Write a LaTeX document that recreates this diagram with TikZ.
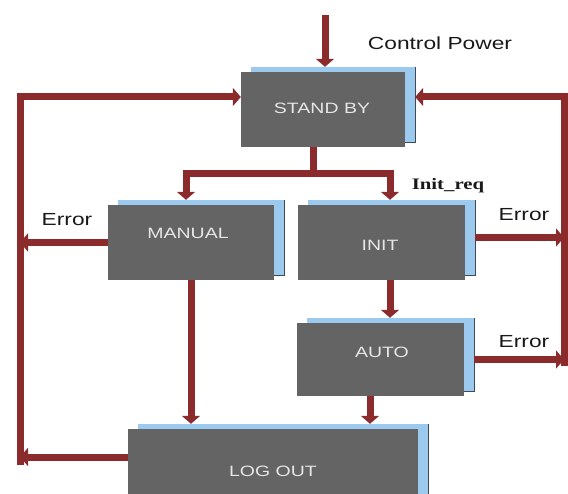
\documentclass[tikz,border=0pt]{standalone}
\usepackage{fontspec}
\setmainfont{Liberation Sans}
\newfontfamily\initfont{Liberation Serif}
\usetikzlibrary{arrows.meta}
\definecolor{arrowred}{HTML}{8B2B2B}
\definecolor{boxgray}{HTML}{646464}
\definecolor{shadowblue}{HTML}{9CC9EE}
\definecolor{shadowedge}{HTML}{3F4A55}
\definecolor{boxtext}{HTML}{E6E6E6}
\newcommand{\stretchtxt}[1]{\scalebox{1.3}[1]{#1}}
\newcommand{\blockpair}[8]{%
  \node[blueblock, minimum width=#4pt, minimum height=#5pt] (#1B) at (#2+10,#3-5) {};
  \draw[shadowedge, line width=0.8pt] (#1B.north east) -- (#1B.south east) -- (#1B.south west);
  \node[grayblock, minimum width=#4pt, minimum height=#5pt] (#1) at (#2,#3) {};
  \node[boxlabel] (#1T) at (#7,#8) {\stretchtxt{#6}};
}
\begin{document}
\begin{tikzpicture}[x=1pt,y=-1pt,
  conn/.style={draw=arrowred, line width=7pt},
  arr/.style={conn, -{Triangle[width=18pt,length=8pt]}},
  dblarr/.style={conn, {Triangle[width=18pt,length=8pt]}-{Triangle[width=18pt,length=8pt]}},
  grayblock/.style={fill=boxgray, draw=none, inner sep=0pt},
  blueblock/.style={fill=shadowblue, draw=none, inner sep=0pt},
  boxlabel/.style={text=boxtext, inner sep=0pt, font=\fontsize{15}{15}\selectfont},
  lbl/.style={text=black!90, inner sep=0pt, font=\fontsize{17.5}{17.5}\selectfont},
  reqlbl/.style={text=black!90, inner sep=0pt, font=\initfont\bfseries\fontsize{16}{16}\selectfont},
]
\useasboundingbox (0,0) rectangle (568,494);
\clip (0,0) rectangle (568,494);

% blocks
\blockpair{sb}{323}{109.5}{164}{75}{STAND BY}{322}{108}
\blockpair{man}{191}{242.5}{166}{75}{MANUAL}{188}{233}
\blockpair{init}{381.5}{242.5}{167}{75}{INIT}{380}{245}
\blockpair{auto}{380.5}{359.5}{167}{73}{AUTO}{382}{352}
\blockpair{lo}{273}{470}{290}{82}{LOG OUT}{273}{471}

% control power
\coordinate (cpTop) at (325,15);
\draw[arr] (cpTop) -- (cpTop |- sbB.north);
\node[lbl] (cpL) at (440,43) {\stretchtxt{Control Power}};

% branch from stand by
\coordinate (brM) at (313,174);
\coordinate (brL) at (186,174);
\coordinate (brR) at (390,174);
\draw[conn] (sb.south -| brM) -- (brM);
\draw[dblarr] (manB.north -| brL) -- (brL) -- (brR) -- (initB.north -| brR);
\node[reqlbl] (irq) at (448,186) {\stretchtxt{Init\_req}};

% side return lines
\coordinate (Lx) at (20,97);
\coordinate (Lbot) at (20,465);
\draw[arr] (Lbot) -- (Lx) -- (sb.west |- Lx);
\coordinate (Rx) at (564,97);
\coordinate (Rbot) at (564,366);
\draw[arr] (Rbot) -- (Rx) -- (sbB.east |- Rx);

% errors
\draw[arr] (man.west) -- (man.west -| Lx);
\node[lbl] (e1) at (67,220) {\stretchtxt{Error}};
\draw[arr] (initB.east) -- (initB.east -| Rx);
\node[lbl] (e2) at (524,215) {\stretchtxt{Error}};
\draw[arr] (autoB.east |- auto.east) -- (auto.east -| Rx);
\node[lbl] (e3) at (524,342) {\stretchtxt{Error}};

% downward flows
\coordinate (ia) at (390,0);
\draw[arr] (init.south -| ia) -- (autoB.north -| ia);
\draw[arr] (man.south) -- (man.south |- loB.north);
\coordinate (al) at (370,0);
\draw[arr] (auto.south -| al) -- (loB.north -| al);
\coordinate (lol) at (0,457);
\draw[arr] (lo.west |- lol) -- (Lx |- lol);
\end{tikzpicture}
\end{document}
